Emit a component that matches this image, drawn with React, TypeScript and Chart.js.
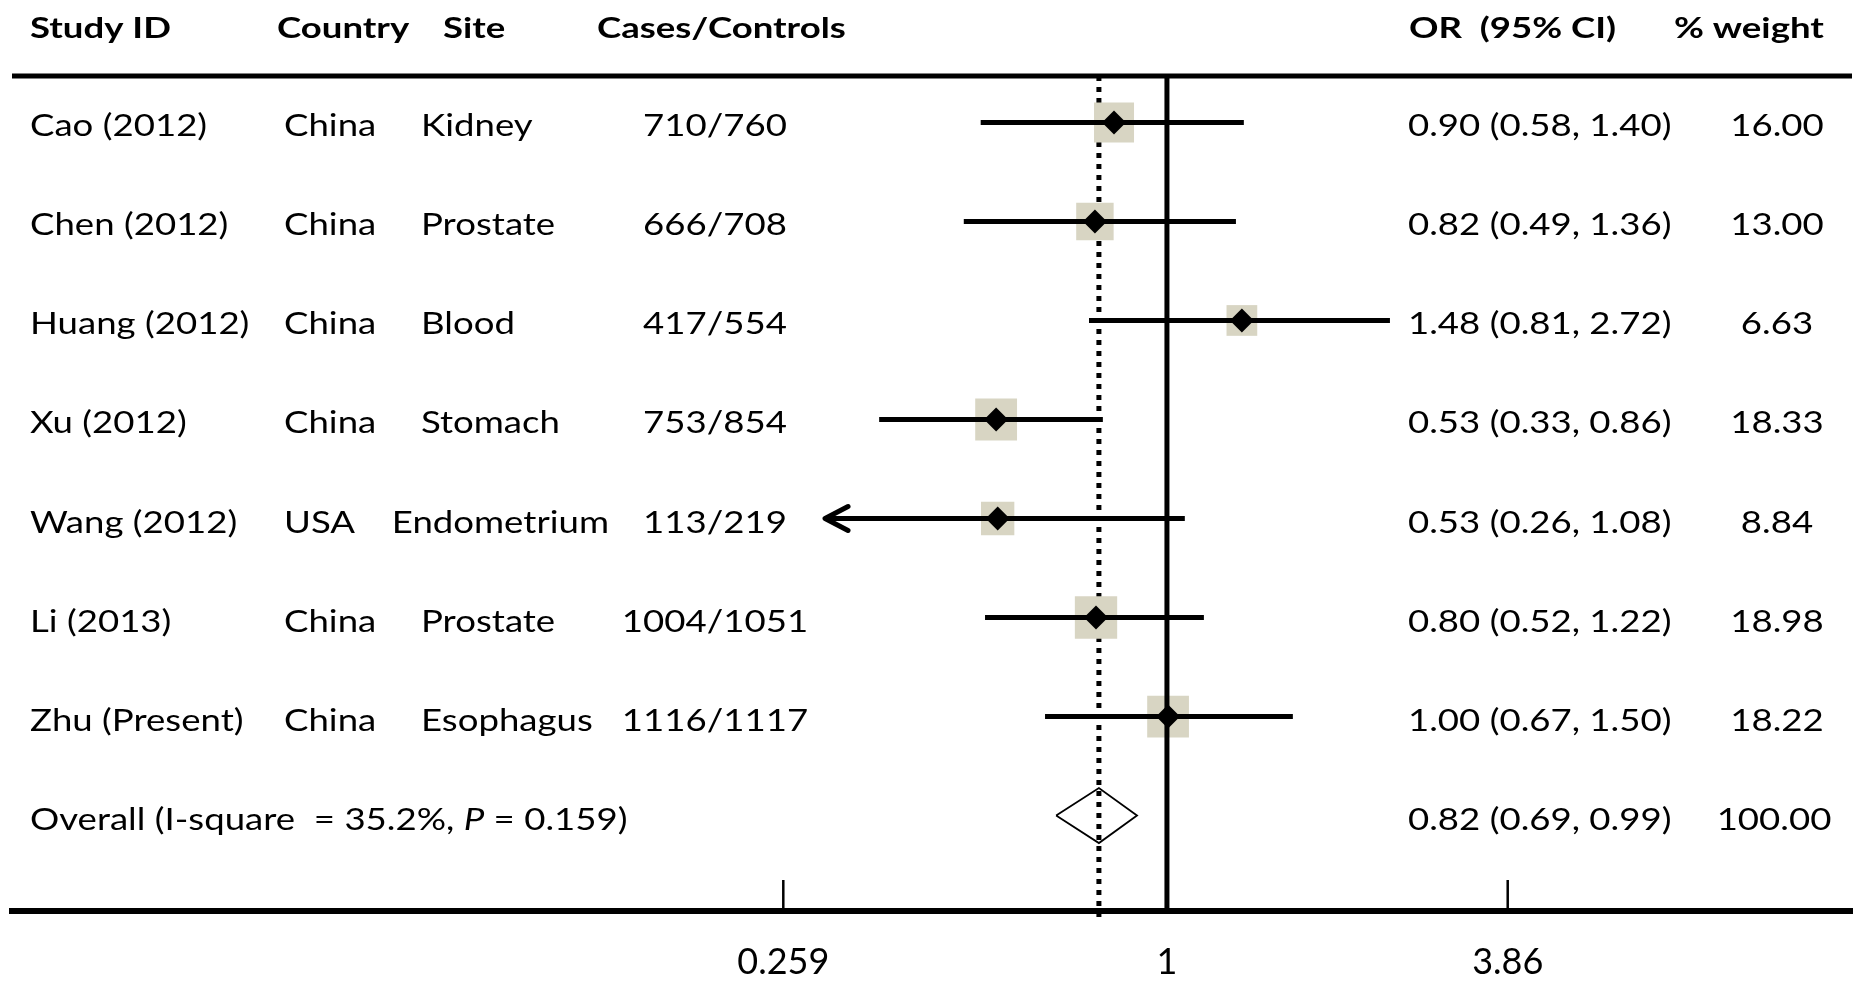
import React, { useEffect, useRef } from 'react';
import { Chart, registerables } from 'chart.js';

Chart.register(...registerables);

// ---------- data ----------
const studyIds = ['Cao (2012)', 'Chen (2012)', 'Huang (2012)', 'Xu (2012)', 'Wang (2012)', 'Li (2013)', 'Zhu (Present)'];
const countries = ['China', 'China', 'China', 'China', 'USA', 'China', 'China'];
const sites = ['Kidney', 'Prostate', 'Blood', 'Stomach', 'Endometrium', 'Prostate', 'Esophagus'];
const casesControls = ['710/760', '666/708', '417/554', '753/854', '113/219', '1004/1051', '1116/1117'];
const orPrinted = [0.9, 0.82, 1.48, 0.53, 0.53, 0.8, 1.0];
const ciLowPrinted = [0.58, 0.49, 0.81, 0.33, 0.26, 0.52, 0.67];
const ciHighPrinted = [1.4, 1.36, 2.72, 0.86, 1.08, 1.22, 1.5];
const weights = [16.0, 13.0, 6.63, 18.33, 8.84, 18.98, 18.22];

const overallPrinted = [0.82, 0.69, 0.99]; // OR, low, high
const overallWeight = 100.0;
const overallLabelParts = ['Overall (I-square  = 35.2%, ', 'P', ' = 0.159)'];

// Where the marks actually sit in the figure, read on its OR axis
const orDrawn = [0.83, 0.776, 1.302, 0.548, 0.551, 0.779, 1.004];
const ciLowDrawn = [0.519, 0.489, 0.76, 0.363, 0.3, 0.527, 0.651];
const ciHighDrawn = [1.311, 1.275, 2.193, 0.798, 1.065, 1.139, 1.558];
const lowArrow = [false, false, false, false, true, false, false];
const overallDrawn = [0.787, 0.677, 0.9]; // OR, low, high

const tickValues = [0.259, 1, 3.32];
const tickLabels = ['0.259', '1', '3.86'];

const headers = ['Study ID', 'Country', 'Site', 'Cases/Controls', 'OR  (95% CI)', '% weight'];

// ---------- layout / style constants ----------
const W = 1866;
const H = 989;
const X_MIN = 0.01713;
const X_MAX = 11.16;
const Y_MIN = -0.469;
const Y_MAX = 7.964;
const STRETCH = 1.18;
const HEADER_STRETCH = 1.26;
const FONT = 'Lato, "Open Sans", sans-serif';
const SQUARE = '#d8d5c3';
const SITE_LEFT = 421;
const SITE_LIMIT = 609;

const fmt = (v: number) => v.toFixed(2);

function drawText(
  ctx: CanvasRenderingContext2D,
  text: string,
  x: number,
  y: number,
  align: CanvasTextAlign,
  font: string,
  stretch: number = STRETCH
) {
  ctx.save();
  ctx.font = font;
  ctx.textAlign = align;
  ctx.textBaseline = 'alphabetic';
  ctx.translate(x, y);
  ctx.scale(stretch, 1);
  ctx.fillText(text, 0, 0);
  ctx.restore();
}

const forestPlugin = {
  id: 'forestDecor',
  afterDatasetsDraw(chart: any) {
    const { ctx, chartArea } = chart;
    const x = chart.scales.x;
    const y = chart.scales.y;
    ctx.save();
    ctx.strokeStyle = '#000';
    ctx.lineCap = 'butt';
    // top rule
    ctx.lineWidth = 5;
    ctx.beginPath();
    ctx.moveTo(chartArea.left, chartArea.top);
    ctx.lineTo(chartArea.right, chartArea.top);
    ctx.stroke();
    // tick marks pointing up from the axis
    ctx.lineWidth = 2.5;
    x.ticks.forEach((t: any) => {
      const px = x.getPixelForValue(t.value);
      ctx.beginPath();
      ctx.moveTo(px, chartArea.bottom);
      ctx.lineTo(px, chartArea.bottom - 31);
      ctx.stroke();
    });
    // arrow heads for truncated CIs
    ctx.lineWidth = 5;
    ctx.lineCap = 'round';
    ctx.lineJoin = 'round';
    lowArrow.forEach((a, i) => {
      if (!a) return;
      const px = x.getPixelForValue(ciLowDrawn[i]);
      const py = y.getPixelForValue(i);
      ctx.beginPath();
      ctx.moveTo(px + 23, py - 12);
      ctx.lineTo(px, py);
      ctx.lineTo(px + 23, py + 12);
      ctx.stroke();
    });
    ctx.restore();
  },
  afterDraw(chart: any) {
    const { ctx } = chart;
    const y = chart.scales.y;
    ctx.save();
    ctx.fillStyle = '#000';
    const hFont = `bold 29px ${FONT}`;
    const rFont = `31px ${FONT}`;
    const headerX = [30, 277, 443, 597, 1409, 1674];
    headers.forEach((h, i) => drawText(ctx, h, headerX[i], 38, 'left', hFont, HEADER_STRETCH));
    studyIds.forEach((s, i) => {
      const by = y.getPixelForValue(i) + 14;
      drawText(ctx, s, 30, by, 'left', rFont);
      drawText(ctx, countries[i], 284, by, 'left', rFont);
      ctx.font = rFont;
      const sw = ctx.measureText(sites[i]).width * STRETCH;
      drawText(ctx, sites[i], Math.min(SITE_LEFT, SITE_LIMIT - sw), by, 'left', rFont);
      drawText(ctx, casesControls[i], 715, by, 'center', rFont);
      drawText(ctx, `${fmt(orPrinted[i])} (${fmt(ciLowPrinted[i])}, ${fmt(ciHighPrinted[i])})`, 1408, by, 'left', rFont);
      drawText(ctx, fmt(weights[i]), 1777, by, 'center', rFont);
    });
    const oy = y.getPixelForValue(studyIds.length) + 14;
    let cx = 30;
    overallLabelParts.forEach((p, k) => {
      const f = k === 1 ? `italic ${rFont}` : rFont;
      ctx.font = f;
      const w = ctx.measureText(p).width * STRETCH;
      drawText(ctx, p, cx, oy, 'left', f);
      cx += w;
    });
    drawText(ctx, `${fmt(overallPrinted[0])} (${fmt(overallPrinted[1])}, ${fmt(overallPrinted[2])})`, 1408, oy, 'left', rFont);
    drawText(ctx, fmt(overallWeight), 1774, oy, 'center', rFont);
    ctx.restore();
  },
};

export default function App() {
  const ref = useRef<HTMLCanvasElement>(null);
  useEffect(() => {
    document.body.style.margin = '0';
    document.body.style.overflow = 'hidden';
    const canvas = ref.current;
    if (!canvas) return;
    let chart: Chart | null = null;
    let cancelled = false;

    const build = () => {
      if (cancelled) return;
      const n = studyIds.length;
      const ciData: any[] = [];
      ciLowDrawn.forEach((lo, i) => {
        ciData.push({ x: lo, y: i }, { x: ciHighDrawn[i], y: i }, { x: null, y: null });
      });
      const squareData = orDrawn.map((v, i) => ({ x: v, y: i }));
      const squareRadius = weights.map((w) => (14 + 6.5 * Math.sqrt(w)) / Math.SQRT2);
      const dH = 0.278;
      const [oOR, oLo, oHi] = overallDrawn;
      const diamondData = [
        { x: oLo, y: n },
        { x: oOR, y: n - dH },
        { x: oHi, y: n },
        { x: oOR, y: n + dH },
        { x: oLo, y: n },
      ];

      chart = new Chart(canvas, {
        type: 'scatter',
        data: {
          datasets: [
            {
              label: 'study OR',
              data: squareData,
              pointStyle: 'rectRot',
              pointRadius: 12,
              backgroundColor: '#000',
              borderWidth: 0,
              order: 0,
            },
            {
              type: 'line',
              label: '95% CI',
              data: ciData,
              borderColor: '#000',
              borderWidth: 5,
              pointRadius: 0,
              spanGaps: false,
              fill: false,
              order: 1,
            },
            {
              type: 'line',
              label: 'overall',
              data: diamondData,
              borderColor: '#000',
              borderWidth: 1.8,
              pointRadius: 0,
              fill: false,
              tension: 0,
              order: 1,
            },
            {
              type: 'line',
              label: 'null line',
              data: [{ x: 1, y: Y_MIN }, { x: 1, y: Y_MAX }],
              borderColor: '#000',
              borderWidth: 5,
              pointRadius: 0,
              fill: false,
              order: 2,
            },
            {
              label: 'weight',
              data: squareData,
              pointStyle: 'rect',
              pointRadius: squareRadius,
              backgroundColor: SQUARE,
              borderWidth: 0,
              order: 3,
            },
            {
              type: 'line',
              label: 'overall line',
              data: [{ x: oOR, y: Y_MIN }, { x: oOR, y: Y_MAX + 0.07 }],
              borderColor: '#000',
              borderWidth: 5,
              borderDash: [5, 6],
              pointRadius: 0,
              fill: false,
              clip: false as any,
              order: 4,
            },
          ] as any,
        },
        options: {
          animation: false,
          responsive: false,
          events: [],
          layout: { autoPadding: false, padding: { top: 76, left: 12, right: 14, bottom: 0 } },
          plugins: { legend: { display: false }, tooltip: { enabled: false } },
          scales: {
            x: {
              type: 'logarithmic',
              min: X_MIN,
              max: X_MAX,
              position: 'bottom',
              grid: { display: false, drawTicks: false, drawOnChartArea: false },
              border: { display: true, width: 6, color: '#000' },
              afterBuildTicks: (scale: any) => {
                scale.ticks = tickValues.map((v) => ({ value: v }));
              },
              afterFit: (scale: any) => {
                scale.height = 78;
              },
              ticks: {
                autoSkip: false,
                maxRotation: 0,
                padding: 30,
                color: '#000',
                font: { family: FONT, size: 36 },
                callback: (_v: any, i: number) => tickLabels[i],
              },
            },
            y: {
              type: 'linear',
              reverse: true,
              min: Y_MIN,
              max: Y_MAX,
              display: false,
            },
          },
        } as any,
        plugins: [forestPlugin],
      });
    };

    if ((document as any).fonts && (document as any).fonts.load) {
      Promise.all([
        document.fonts.load('31px Lato'),
        document.fonts.load('bold 29px Lato'),
        document.fonts.load('italic 31px Lato'),
      ]).then(build, build);
    } else {
      build();
    }
    return () => {
      cancelled = true;
      if (chart) chart.destroy();
    };
  }, []);
  return (
    <div style={{ width: W, height: H, background: '#fff' }}>
      <canvas ref={ref} width={W} height={H} style={{ display: 'block' }} />
    </div>
  );
}
